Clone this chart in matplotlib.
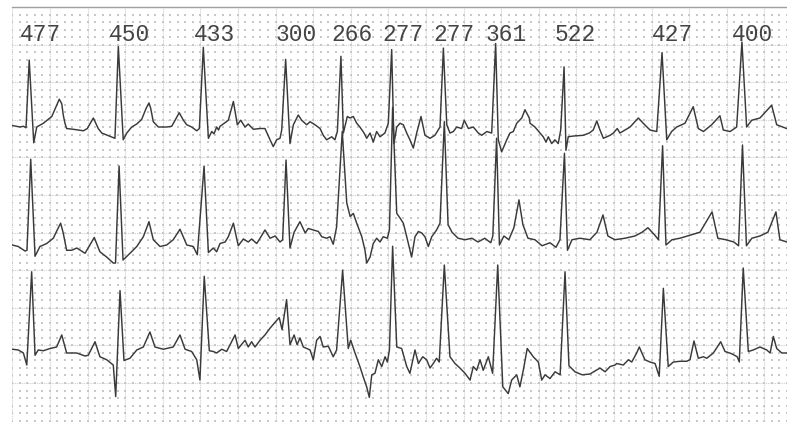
import matplotlib
matplotlib.use("Agg")
import matplotlib.pyplot as plt
import numpy as np

# RR intervals (ms) shown above each beat, and beat (R-peak) times in seconds
rr_labels = ["477", "450", "433", "300", "266", "277", "277", "361", "522", "427", "400"]
beat_times = [0.090, 0.564, 1.016, 1.454, 1.748, 2.018, 2.293, 2.571, 2.935, 3.456, 3.881]

# Lead 1 (top trace): time (s), amplitude (mV, relative to baseline)
lead1_t = [0.000, 0.041, 0.059, 0.073, 0.090, 0.114, 0.130, 0.165, 0.210, 0.234,
           0.250, 0.263, 0.271,
           0.280, 0.289, 0.324, 0.378, 0.399, 0.431, 0.457, 0.476, 0.537, 0.546,
           0.564, 0.590, 0.609, 0.635, 0.662, 0.688, 0.712, 0.727, 0.736, 0.750,
           0.777, 0.821,
           0.848, 0.888, 0.910, 0.928, 0.954, 0.981, 0.995, 1.016, 1.043, 1.061,
           1.073, 1.087, 1.097, 1.105, 1.122, 1.149, 1.176, 1.197, 1.215, 1.238,
           1.255, 1.282, 1.318, 1.344, 1.371, 1.388, 1.406, 1.424, 1.433, 1.454,
           1.477, 1.495, 1.521, 1.539, 1.566, 1.584, 1.610, 1.637, 1.654, 1.672,
           1.699, 1.716, 1.729, 1.748, 1.761, 1.782, 1.796, 1.814, 1.832, 1.849,
           1.871, 1.885, 1.903, 1.920, 1.938, 1.956, 1.982, 2.000, 2.018, 2.030,
           2.045, 2.062, 2.080, 2.098, 2.115, 2.133, 2.151, 2.174, 2.195, 2.222,
           2.248, 2.275, 2.293, 2.311, 2.328, 2.346, 2.364, 2.390, 2.404, 2.426,
           2.452, 2.479, 2.497, 2.524, 2.550, 2.571, 2.585, 2.603, 2.630, 2.647,
           2.665, 2.683, 2.710, 2.727, 2.750, 2.754, 2.780, 2.807, 2.824, 2.839,
           2.851, 2.869, 2.886, 2.904, 2.917, 2.935, 2.945, 2.957, 2.984, 3.037,
           3.069, 3.090, 3.109, 3.126, 3.144, 3.180, 3.197, 3.218, 3.232, 3.259,
           3.286, 3.330, 3.356, 3.392, 3.428, 3.456, 3.481, 3.507, 3.534, 3.578,
           3.622, 3.649, 3.676, 3.720, 3.764, 3.782, 3.818, 3.853, 3.881, 3.906,
           3.933, 3.977, 4.039, 4.066, 4.119]
lead1_v = [0.02, 0.00, 0.01, -0.01, 0.89, -0.21, 0.00, 0.05, 0.14, 0.28,
           0.37, 0.31, 0.16,
           0.05, -0.02, -0.03, -0.05, -0.02, 0.12, -0.02, -0.08, -0.14, -0.15,
           1.07, -0.17, -0.08, 0.00, 0.04, 0.10, 0.25, 0.32, 0.25, 0.07,
           0.00, 0.00,
           0.01, 0.19, 0.09, 0.03, 0.00, -0.05, -0.02, 1.06, -0.15, -0.06,
           -0.09, 0.00, -0.04, 0.01, 0.04, 0.09, 0.34, 0.03, 0.09, 0.00,
           0.04, -0.03, -0.02, -0.02, -0.17, -0.26, -0.17, -0.15, -0.04, 0.90,
           -0.22, 0.03, 0.16, 0.09, 0.03, 0.07, 0.03, -0.02, -0.11, -0.17,
           -0.13, -0.17, -0.06, 0.94, -0.08, 0.14, 0.12, 0.14, 0.05, 0.00,
           -0.08, -0.15, -0.08, -0.20, -0.06, -0.13, -0.08, 0.05, 1.03, -0.22,
           0.00, 0.05, 0.03, -0.08, -0.17, -0.28, -0.08, 0.14, -0.11, -0.15,
           -0.11, 0.00, 1.05, 0.03, -0.08, -0.06, 0.00, -0.02, 0.09, -0.02,
           0.00, -0.08, -0.11, -0.06, -0.08, 1.11, -0.17, -0.33, -0.17, -0.08,
           -0.06, 0.05, 0.12, 0.23, 0.12, 0.05, 0.00, -0.08, -0.13, -0.20,
           -0.13, -0.22, -0.17, -0.22, -0.04, 0.80, -0.31, -0.13, -0.12, -0.11,
           -0.08, -0.04, 0.08, -0.04, -0.15, -0.11, -0.08, -0.02, -0.08, -0.04,
           0.00, 0.12, 0.05, -0.04, -0.06, 0.99, -0.17, -0.06, 0.00, 0.05,
           0.27, -0.02, -0.06, 0.03, 0.15, -0.04, -0.06, 0.00, 1.13, 0.00,
           0.09, 0.12, 0.29, 0.03, -0.02]

# Lead 2 (middle trace)
lead2_t = [0.000, 0.032, 0.068, 0.078, 0.098, 0.121, 0.147, 0.183, 0.218, 0.239,
           0.257, 0.270,
           0.289, 0.316, 0.343, 0.387, 0.436, 0.466, 0.502, 0.537, 0.549, 0.568,
           0.589, 0.626, 0.662, 0.697, 0.727, 0.750, 0.786, 0.821, 0.856, 0.892,
           0.928, 0.963, 0.984, 1.020, 1.043, 1.069, 1.087, 1.105, 1.132, 1.149,
           1.176, 1.202, 1.229, 1.255, 1.273, 1.300, 1.318, 1.344, 1.371, 1.398,
           1.424, 1.438, 1.456, 1.477, 1.499, 1.530, 1.558, 1.574, 1.601, 1.628,
           1.646, 1.672, 1.690, 1.707, 1.725, 1.755, 1.779, 1.797, 1.814, 1.832,
           1.859, 1.876, 1.885, 1.903, 1.920, 1.938, 1.956, 1.973, 1.995, 2.006,
           2.023, 2.045, 2.062, 2.080, 2.098, 2.124, 2.142, 2.160, 2.178, 2.195,
           2.213, 2.231, 2.257, 2.275, 2.298, 2.318, 2.339, 2.371, 2.408, 2.445,
           2.477, 2.513, 2.545, 2.556, 2.576, 2.591, 2.615, 2.641, 2.668, 2.695,
           2.716, 2.743, 2.780, 2.818, 2.860, 2.892, 2.913, 2.937, 2.953, 2.977,
           3.019, 3.072, 3.110, 3.142, 3.168, 3.205, 3.259, 3.312, 3.350, 3.381,
           3.418, 3.437, 3.459, 3.477, 3.509, 3.551, 3.604, 3.658, 3.722, 3.753,
           3.796, 3.838, 3.863, 3.884, 3.905, 3.934, 3.977, 4.019, 4.062, 4.083,
           4.120]
lead2_v = [0.00, -0.02, -0.08, -0.07, 1.14, -0.15, -0.02, 0.02, 0.09, 0.20,
           0.29, 0.17,
           -0.07, -0.07, -0.04, -0.11, 0.10, -0.09, -0.16, -0.24, -0.24, 1.05,
           -0.20, -0.11, -0.02, 0.11, 0.31, 0.07, -0.02, 0.00, 0.07, 0.21,
           0.00, -0.02, -0.13, 1.05, -0.10, -0.04, -0.09, 0.02, 0.04, 0.11,
           0.29, -0.01, 0.08, 0.04, 0.08, 0.02, 0.09, 0.20, 0.09, 0.12,
           0.04, 0.07, 1.13, -0.04, 0.17, 0.31, 0.16, 0.22, 0.20, 0.18,
           0.11, 0.09, 0.11, 0.01, 0.24, 1.51, 0.56, 0.38, 0.42, 0.29,
           0.11, -0.07, -0.24, -0.16, 0.02, 0.09, 0.04, 0.11, 0.09, 0.20,
           1.83, 0.42, 0.36, 0.29, 0.11, -0.16, 0.11, 0.18, 0.16, 0.11,
           -0.02, 0.11, 0.20, 0.29, 1.64, 0.27, 0.17, 0.09, 0.07, 0.09,
           0.04, 0.09, 0.03, 0.12, 1.42, 0.00, 0.12, 0.07, 0.23, 0.60,
           0.27, 0.09, 0.07, -0.01, 0.03, -0.03, 0.07, 1.22, -0.07, 0.07,
           0.09, 0.07, 0.17, 0.40, 0.12, 0.07, 0.09, 0.12, 0.17, 0.23,
           0.13, 0.07, 1.32, 0.00, 0.07, 0.09, 0.13, 0.17, 0.44, 0.09,
           0.07, 0.04, -0.01, 1.33, -0.01, 0.09, 0.12, 0.17, 0.44, 0.07,
           0.04]

# Lead 3 (bottom trace)
lead3_t = [0.000, 0.032, 0.059, 0.077, 0.103, 0.121, 0.138, 0.165, 0.201, 0.236,
           0.263, 0.289, 0.343, 0.387, 0.404, 0.440, 0.466, 0.502, 0.537, 0.550,
           0.573, 0.594, 0.626, 0.662, 0.697, 0.732, 0.759, 0.803, 0.856, 0.892,
           0.919, 0.954, 0.981, 0.998, 1.021, 1.048, 1.069, 1.087, 1.114, 1.140,
           1.185, 1.202, 1.238, 1.255, 1.273, 1.291, 1.318, 1.344, 1.371, 1.398,
           1.420, 1.435, 1.459, 1.477, 1.499, 1.515, 1.530, 1.548, 1.584, 1.601,
           1.619, 1.637, 1.654, 1.681, 1.707, 1.725, 1.757, 1.787, 1.800, 1.823,
           1.849, 1.867, 1.885, 1.899, 1.912, 1.929, 1.947, 1.965, 1.983, 1.995,
           2.006, 2.023, 2.045, 2.071, 2.098, 2.115, 2.142, 2.160, 2.183, 2.204,
           2.222, 2.239, 2.257, 2.271, 2.298, 2.328, 2.355, 2.381, 2.408, 2.435,
           2.452, 2.470, 2.488, 2.505, 2.532, 2.555, 2.582, 2.609, 2.638, 2.656,
           2.683, 2.700, 2.718, 2.739, 2.771, 2.798, 2.816, 2.834, 2.860, 2.887,
           2.914, 2.940, 2.961, 2.993, 3.031, 3.072, 3.126, 3.153, 3.180, 3.206,
           3.215, 3.250, 3.277, 3.295, 3.321, 3.335, 3.365, 3.392, 3.419, 3.441,
           3.463, 3.489, 3.516, 3.552, 3.587, 3.605, 3.626, 3.649, 3.676, 3.694,
           3.729, 3.768, 3.791, 3.827, 3.856, 3.867, 3.888, 3.915, 3.941, 3.977,
           4.013, 4.031, 4.048, 4.066, 4.093, 4.119]
lead3_v = [0.01, 0.00, -0.04, -0.20, 1.04, -0.07, 0.00, -0.01, 0.02, 0.04,
           0.20, -0.04, -0.04, -0.08, -0.07, 0.11, -0.09, -0.13, -0.20, -0.62,
           0.79, -0.14, -0.11, 0.00, 0.04, 0.24, 0.04, 0.01, 0.04, 0.20,
           0.01, -0.02, -0.13, -0.40, 0.98, -0.01, -0.02, -0.04, 0.01, -0.02,
           0.20, 0.02, 0.13, 0.04, 0.11, 0.04, 0.13, 0.20, 0.29, 0.37,
           0.43, 0.27, 0.67, 0.07, 0.20, 0.07, 0.16, 0.04, 0.00, -0.13,
           0.13, 0.18, 0.04, 0.05, -0.09, 0.00, 1.06, 0.02, 0.13, -0.04,
           -0.22, -0.36, -0.49, -0.63, -0.33, -0.31, -0.13, -0.22, -0.09, -0.16,
           0.00, 1.38, 0.04, 0.02, -0.22, -0.31, 0.00, -0.18, -0.09, -0.13,
           -0.24, -0.18, -0.11, -0.16, 1.13, -0.09, -0.18, -0.24, -0.31, -0.40,
           -0.22, -0.27, -0.13, -0.27, -0.09, -0.31, 1.13, -0.49, -0.58, -0.40,
           -0.33, -0.49, -0.27, 0.02, -0.09, -0.16, -0.40, -0.33, -0.38, -0.29,
           -0.33, 1.04, -0.21, -0.29, -0.33, -0.32, -0.24, -0.29, -0.22, -0.20,
           -0.18, -0.20, -0.13, -0.16, -0.04, 0.04, -0.13, -0.16, -0.18, -0.35,
           0.82, -0.22, -0.16, -0.15, -0.15, -0.13, 0.12, -0.11, -0.09, -0.11,
           -0.04, 0.11, -0.02, -0.05, -0.09, -0.16, 1.09, -0.02, 0.00, 0.04,
           0.00, -0.04, 0.18, 0.02, -0.04, -0.04]

# ---------------------------------------------------------------- layout
W, H = 787, 422
fig = plt.figure(figsize=(W / 100, H / 100), dpi=100)
fig.patch.set_facecolor("white")
left_px, top_px, bottom_px = 12.3, 7.0, 1.4
ax = fig.add_axes([left_px / W, bottom_px / H, (W - left_px) / W,
                   (H - top_px - bottom_px) / H])
px_per_s = 188.0
xmax = (W - left_px) / px_per_s
ymax = 5.5
ax.set_xlim(0, xmax)
ax.set_ylim(0, ymax)

# ECG paper: major lines every 0.2 s / 0.5 mV, minor dots every 0.04 s / 0.1 mV
grid_col = "#d6d6d6"
for gx in np.arange(0, xmax + 1e-9, 0.2):
    ax.axvline(gx, color=grid_col, lw=0.8, ls=(0, (1.2, 0.8)), zorder=1)
for gy in np.arange(0, ymax + 1e-9, 0.5):
    ax.axhline(gy, color=grid_col, lw=0.8, ls=(0, (1.2, 0.8)), zorder=1)
mx, my = np.meshgrid(np.arange(0, xmax + 1e-9, 0.04), np.arange(0, ymax + 1e-9, 0.1))
ax.scatter(mx.ravel(), my.ravel(), s=0.6, marker="s", color="#c8c8c8",
           linewidths=0, zorder=1)

# traces
offsets = [3.904, 2.335, 0.939]
leads = [(lead1_t, lead1_v), (lead2_t, lead2_v), (lead3_t, lead3_v)]
for (t, v), off in zip(leads, offsets):
    ax.plot(t, np.asarray(v) + off, color="#3a3a3a", lw=1.05,
            solid_joinstyle="round", zorder=3)

# RR labels
for bt, lab in zip(beat_times, rr_labels):
    ax.text(bt + 0.058, 5.05, lab, ha="center", va="baseline", fontsize=16.5,
            family="Liberation Mono", color="#444444", zorder=4)

ax.set_xticks([])
ax.set_yticks([])
for side in ("left", "right", "bottom"):
    ax.spines[side].set_visible(False)
ax.spines["top"].set_color("#a0a0a0")
ax.spines["top"].set_linewidth(1.0)

fig.savefig("out.png", dpi=100)
